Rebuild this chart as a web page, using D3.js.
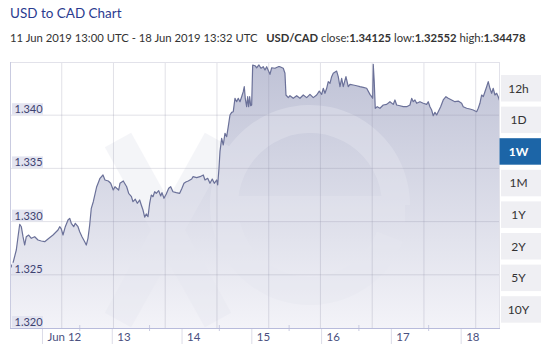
<!DOCTYPE html>
<html><head><meta charset="utf-8">
<script src="https://cdn.jsdelivr.net/npm/d3@7"></script>
<style>
body{margin:0;background:#fff;}
svg{display:block;font-family:Lato,"Noto Sans",sans-serif;}
</style>
</head><body>
<svg id="chart" width="541" height="353"></svg>
<script>
// ---- data ----
const startTime = Date.UTC(2019, 5, 11, 13, 0);
const endTime = Date.UTC(2019, 5, 18, 13, 32);
const hours = [0,1.03,2.17,2.75,3.34,3.89,4.47,5.06,5.61,6.43,7.33,8.49,9.63,10.76,11.93,13.07,14.79,16.51,17.09,17.64,18.23,19.02,19.95,20.53,21.08,21.91,22.46,23.39,23.97,24.76,25.69,26.24,26.82,27.41,27.96,28.65,29.82,30.5,30.95,31.98,32.67,33.81,34.63,35.52,36.11,36.69,37.38,37.83,38.96,40.13,40.82,41.78,42.3,43.09,43.78,44.6,45.15,45.74,46.32,46.87,47.46,48.04,48.59,49.18,49.76,50.31,51.14,51.83,52.27,52.96,53.75,54.58,55.27,56.05,57.19,58.36,59.15,59.84,60.63,61.32,62.49,62.93,64.21,65.34,66.48,67.06,67.99,68.78,69.57,70.26,71.08,71.43,71.88,72.22,72.8,73.35,73.94,74.52,75.07,75.66,76.24,76.79,77.38,77.96,78.51,79.1,79.68,80.23,80.58,80.92,81.4,81.74,82.09,82.43,82.78,83.12,83.47,84.26,84.84,85.63,86.32,87.11,87.7,88.28,89.41,90,91.13,92.27,92.85,93.99,94.57,94.92,95.71,96.29,97.43,98.6,99.73,100.87,102.04,103.17,104.31,105.48,106.37,107.2,107.75,108.33,108.92,109.46,110.05,110.63,111.18,112.35,112.9,113.49,114.07,114.62,115.55,116.34,116.93,118.06,119.23,120.36,121.5,122.67,123.8,124.39,124.73,124.94,125.28,125.63,126.32,127.24,128.38,129.55,130.68,131.82,132.4,132.99,134.12,135.26,136.43,137.56,138.15,138.7,139.28,139.87,141,142.13,143.3,143.85,144.44,145.02,145.57,146.16,146.74,147.29,148.12,149.01,149.94,150.73,151.9,153.03,154.17,155.34,155.89,157.06,158.19,159.33,160.5,161.05,161.63,162.22,162.77,163.35,163.94,164.49,165.07,165.66,166.21,166.79,167.38,167.93,168.53];
const rates = [1.32555,1.32611,1.32733,1.32855,1.32975,1.32952,1.32858,1.3278,1.32858,1.32874,1.32843,1.32858,1.32827,1.32818,1.32811,1.32837,1.32874,1.32921,1.32952,1.32931,1.32874,1.32952,1.33015,1.33031,1.32984,1.32952,1.32984,1.32952,1.32905,1.32858,1.32811,1.3278,1.32843,1.32968,1.33125,1.33187,1.33328,1.33375,1.33407,1.33438,1.33391,1.33382,1.3336,1.33297,1.33328,1.33313,1.33297,1.3336,1.33382,1.33328,1.33266,1.33234,1.33187,1.3321,1.33172,1.33203,1.33156,1.33109,1.33041,1.33072,1.33046,1.33172,1.3325,1.33234,1.33281,1.33266,1.33291,1.33241,1.33272,1.33219,1.3326,1.33313,1.33328,1.33281,1.33272,1.33266,1.33313,1.3336,1.33375,1.33382,1.334,1.33422,1.33413,1.33422,1.33438,1.33391,1.33407,1.3336,1.334,1.3336,1.33391,1.33344,1.33501,1.33657,1.33783,1.3372,1.3383,1.33798,1.33892,1.34002,1.34027,1.34033,1.34159,1.34127,1.34159,1.34127,1.34174,1.34221,1.34268,1.34159,1.3408,1.34174,1.3408,1.34174,1.34089,1.34096,1.34472,1.34465,1.34446,1.34472,1.34441,1.34456,1.34425,1.34456,1.34384,1.34446,1.34441,1.34456,1.34456,1.34441,1.34394,1.3419,1.34165,1.34183,1.34159,1.34183,1.34159,1.3419,1.34165,1.34196,1.34165,1.3419,1.34227,1.34196,1.34253,1.34206,1.34253,1.34315,1.343,1.34362,1.34394,1.34415,1.34362,1.34268,1.34347,1.34268,1.34362,1.34268,1.3429,1.34284,1.34277,1.34268,1.34262,1.34253,1.34196,1.34174,1.34159,1.34478,1.34315,1.34065,1.3408,1.34065,1.34096,1.34102,1.34127,1.34102,1.34143,1.34096,1.34089,1.3408,1.3408,1.34096,1.34159,1.34127,1.34143,1.34112,1.34127,1.34112,1.34102,1.34127,1.3408,1.34049,1.33995,1.34027,1.34002,1.34033,1.3408,1.34143,1.34174,1.34159,1.34143,1.34127,1.34133,1.34112,1.3408,1.34065,1.34058,1.34049,1.34033,1.34065,1.34112,1.3419,1.34174,1.34221,1.34268,1.34315,1.34253,1.34206,1.34253,1.3419,1.34206,1.34174,1.34125];
const yTicks = [1.320, 1.325, 1.330, 1.335, 1.340];
const yDomain = [1.320, 1.345];
const dayTicks = [12, 13, 14, 15, 16, 17, 18];
const dayLabels = ["Jun 12", "13", "14", "15", "16", "17", "18"];
const rangeButtons = ["12h", "1D", "1W", "1M", "1Y", "2Y", "5Y", "10Y"];
const activeButton = "1W";
const titleText = "USD to CAD Chart";
const periodText = "11 Jun 2019 13:00 UTC - 18 Jun 2019 13:32 UTC";
const pairText = "USD/CAD";
const stats = [["close:", "1.34125"], ["low:", "1.32552"], ["high:", "1.34478"]];

// ---- layout ----
const L = 10, R = 500, T = 62, B = 328;
const svg = d3.select("#chart");
const data = hours.map((h, i) => ({ t: new Date(startTime + h * 3600e3), v: rates[i] }));

const x = d3.scaleTime().domain([new Date(startTime), new Date(endTime)]).range([L, R]);
const y = d3.scaleLinear().domain(yDomain).range([B, T]);

const defs = svg.append("defs");
const grad = defs.append("linearGradient").attr("id", "fillGrad")
  .attr("gradientUnits", "userSpaceOnUse").attr("x1", 0).attr("x2", 0).attr("y1", T).attr("y2", B);
grad.append("stop").attr("offset", 0).attr("stop-color", "#bfc2d6");
grad.append("stop").attr("offset", 1).attr("stop-color", "#f3f3f8");
defs.append("clipPath").attr("id", "plotClip").append("rect")
  .attr("x", L).attr("y", T).attr("width", R - L).attr("height", B - T);

function fitWidth(sel, base, target) {
  const w = sel.node().getBBox().width;
  sel.attr("font-size", base * target / w);
}

// title & subtitle
const title = svg.append("text").attr("x", 10).attr("y", 18).attr("font-size", 15.5).attr("fill", "#2a3b8f").text(titleText);
fitWidth(title, 15.5, 112);
const sub = svg.append("text").attr("x", 10).attr("y", 42).attr("font-size", 11.6).attr("fill", "#333")
  .attr("xml:space", "preserve").style("white-space", "pre");
sub.append("tspan").text(periodText + "   ");
sub.append("tspan").attr("font-weight", "bold").text(pairText);
stats.forEach(([k, v]) => {
  sub.append("tspan").text(" " + k);
  sub.append("tspan").attr("font-weight", "bold").text(v);
});
fitWidth(sub, 11.6, 516);

// plot
const plot = svg.append("g").attr("clip-path", "url(#plotClip)");
plot.append("path").datum(data)
  .attr("d", d3.area().x(d => x(d.t)).y0(B).y1(d => y(d.v)))
  .attr("fill", "url(#fillGrad)");

// watermark (xe logo, drawn as shapes)
const wmColor = "#e6e7f0";
const wm = plot.append("g").attr("fill", "none").attr("stroke", wmColor).attr("opacity", 0.4);
wm.append("line").attr("x1", 118).attr("y1", 140).attr("x2", 218).attr("y2", 320).attr("stroke-width", 30);
wm.append("line").attr("x1", 218).attr("y1", 140).attr("x2", 118).attr("y2", 320).attr("stroke-width", 30);
const eArc = d3.arc().innerRadius(72).outerRadius(100).startAngle(Math.PI * 0.62).endAngle(Math.PI * 2.5);
wm.append("path").attr("transform", "translate(310,205)").attr("d", eArc()).attr("fill", wmColor).attr("stroke", "none");
wm.append("rect").attr("x", 215).attr("y", 196).attr("width", 190).attr("height", 26).attr("fill", wmColor).attr("stroke", "none");

plot.append("path").datum(data)
  .attr("d", d3.line().x(d => x(d.t)).y(d => y(d.v)))
  .attr("fill", "none").attr("stroke", "#6b7199").attr("stroke-width", 1.2).attr("stroke-linejoin", "round");

// grid
const gridV = d3.range(1, 10).map(i => L + i * (R - L) * 0.1056);
svg.append("g").selectAll("line").data(gridV).join("line")
  .attr("x1", d => d).attr("x2", d => d).attr("y1", T).attr("y2", B)
  .attr("stroke", "rgba(140,140,165,0.25)").attr("stroke-width", 1);
svg.append("g").selectAll("line").data(yTicks.slice(1)).join("line")
  .attr("x1", L).attr("x2", R).attr("y1", d => y(d)).attr("y2", d => y(d))
  .attr("stroke", "rgba(140,140,165,0.25)").attr("stroke-width", 1);

// frame
svg.append("line").attr("x1", L).attr("x2", R).attr("y1", T + 0.5).attr("y2", T + 0.5).attr("stroke", "#e2e2ea");
svg.append("line").attr("x1", R - 0.5).attr("x2", R - 0.5).attr("y1", T).attr("y2", B).attr("stroke", "#e2e2ea");
svg.append("line").attr("x1", L + 0.5).attr("x2", L + 0.5).attr("y1", T).attr("y2", B).attr("stroke", "#c9cbe0");

// y labels
const yl = svg.append("g").selectAll("g").data(yTicks).join("g")
  .attr("transform", d => `translate(12,${y(d)})`);
yl.append("rect").attr("x", 0).attr("y", -12).attr("width", 31).attr("height", 11.5).attr("fill", "#e3e4f0");
yl.append("text").attr("x", 2.5).attr("y", -2).attr("font-size", 11).attr("fill", "#3d4270")
  .text(d => d3.format(".3f")(d));

// x axis
const xAxis = d3.axisBottom(x)
  .tickValues(dayTicks.map(d => new Date(Date.UTC(2019, 5, d))))
  .tickFormat((d, i) => dayLabels[i]).tickSize(16).tickPadding(0);
const ax = svg.append("g").attr("transform", `translate(0,${B})`).call(xAxis);
ax.select(".domain").remove();
ax.selectAll(".tick line").attr("stroke", "#dcdce8");
ax.selectAll(".tick text").attr("text-anchor", "start").attr("x", 5).attr("dy", 0).attr("y", 12.5)
  .attr("font-size", 11.5).attr("font-family", "Lato, sans-serif").attr("fill", "#4a5080");
const minorTicks = dayTicks.slice(0, -1).map(d => new Date(Date.UTC(2019, 5, d, 13)));
svg.append("g").selectAll("line").data(minorTicks).join("line")
  .attr("x1", d => x(d)).attr("x2", d => x(d)).attr("y1", B - 3).attr("y2", B + 3)
  .attr("stroke", "#c9cbe0");
svg.append("line").attr("x1", L).attr("x2", R).attr("y1", B + 0.5).attr("y2", B + 0.5).attr("stroke", "#b8bbdb");

// range buttons
const btn = svg.append("g").selectAll("g").data(rangeButtons).join("g")
  .attr("transform", (d, i) => `translate(501,${75 + i * 31.6})`);
btn.append("rect").attr("x", d => d === activeButton ? -1.5 : 0).attr("y", 0)
  .attr("width", d => d === activeButton ? 42 : 40).attr("height", 26.5)
  .attr("fill", d => d === activeButton ? "#1c65a7" : "#efeff3");
btn.append("text").attr("x", 17.5).attr("y", 17.5).attr("text-anchor", "middle")
  .attr("font-size", 12).attr("font-weight", d => d === activeButton ? "bold" : "normal")
  .attr("fill", d => d === activeButton ? "#fff" : "#333").text(d => d);
</script>
</body></html>
